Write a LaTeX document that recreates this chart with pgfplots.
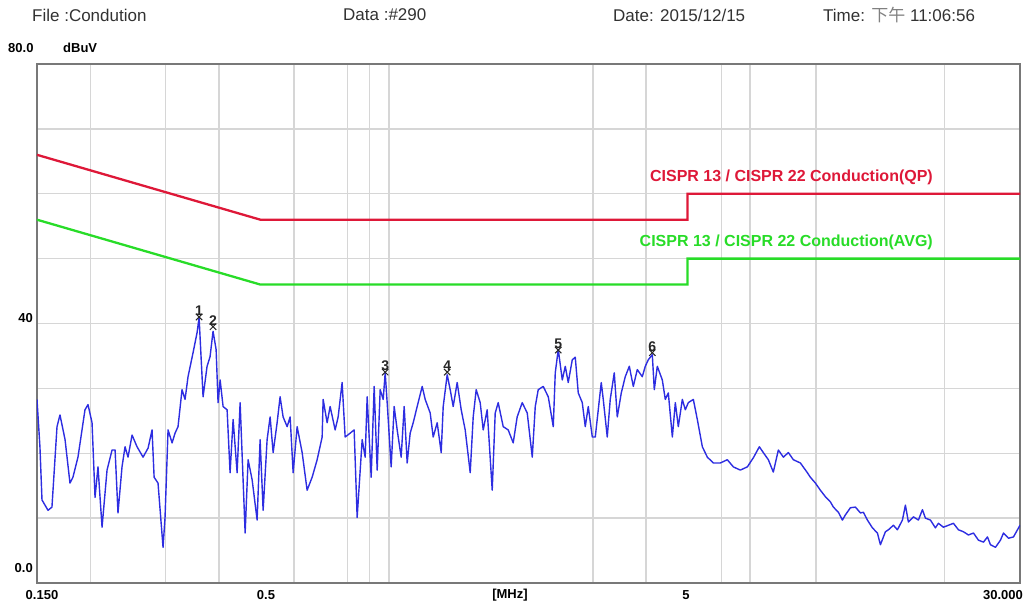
\documentclass[border=0pt]{standalone}
\usepackage{fontspec}
\setmainfont{Liberation Sans}
\newfontfamily\cjk{Noto Sans CJK SC}
\usepackage{pgfplots}
\pgfplotsset{compat=1.18}

\definecolor{qpred}{RGB}{222,24,56}
\definecolor{avggreen}{RGB}{40,220,40}
\definecolor{trace}{RGB}{45,45,225}
\definecolor{gridgray}{RGB}{214,214,214}
\definecolor{framegray}{RGB}{120,120,120}
\definecolor{hdrgray}{RGB}{50,50,50}

\begin{document}
\begin{tikzpicture}[x=1pt,y=1pt]
\useasboundingbox (0,0) rectangle (1029,607);
\begin{axis}[
    at={(37pt,24pt)}, anchor=south west,
    scale only axis, width=983pt, height=519pt,
    xmode=log, xmin=0.15, xmax=30,
    ymin=0, ymax=80,
    xtick={0.2,0.3,0.4,0.6,0.8,0.9,1,3,4,6,7,10,20},
    minor xtick={},
    ytick={10,20,30,40,50,60,70},
    xticklabels={}, yticklabels={},
    major tick length=0pt,
    grid=major,
    grid style={draw=gridgray, line width=1.4pt},
    axis line style={draw=framegray, line width=2pt},
]
% measured trace (MHz, dBuV)
\addplot[trace, line width=1.4pt, line join=round] coordinates {
(0.1500,28.3) (0.1524,21.0) (0.1541,12.8) (0.1592,11.2) (0.1626,11.7)
(0.1671,24.1) (0.1698,25.9) (0.1745,22.1) (0.1792,15.4) (0.1821,16.3)
(0.1871,19.4) (0.1943,26.7) (0.1975,27.5) (0.2018,24.7) (0.2051,13.2)
(0.2084,17.9) (0.2130,8.6) (0.2188,17.4) (0.2248,20.5) (0.2285,20.5)
(0.2321,10.8) (0.2372,17.9) (0.2411,21.0) (0.2450,19.4) (0.2504,22.8)
(0.2572,21.0) (0.2657,19.4) (0.2730,20.8) (0.2789,23.6) (0.2820,16.3)
(0.2880,15.4) (0.2959,5.5) (0.2991,10.1) (0.3040,23.6) (0.3107,21.6)
(0.3157,23.1) (0.3208,24.1) (0.3278,29.8) (0.3332,28.3) (0.3386,31.8)
(0.3479,35.5) (0.3555,38.6) (0.3594,40.9) (0.3672,28.7) (0.3752,33.4)
(0.3813,34.9) (0.3875,38.8) (0.3939,36.0) (0.3981,27.8) (0.4025,31.3)
(0.4090,27.2) (0.4179,26.7) (0.4247,17.0) (0.4317,25.2) (0.4411,17.0)
(0.4483,27.8) (0.4606,7.7) (0.4680,19.0) (0.4783,15.9) (0.4913,9.7)
(0.4993,22.1) (0.5075,11.2) (0.5185,22.1) (0.5270,25.6) (0.5356,20.1)
(0.5472,24.7) (0.5561,28.7) (0.5652,25.6) (0.5776,24.1) (0.5870,25.6)
(0.5966,17.0) (0.6096,24.1) (0.6263,20.1) (0.6433,14.3) (0.6609,16.3)
(0.6790,19.0) (0.6976,22.5) (0.7013,28.3) (0.7166,24.7) (0.7283,27.2)
(0.7482,23.6) (0.7604,25.6) (0.7770,30.9) (0.7897,22.5) (0.8112,23.1)
(0.8289,23.6) (0.8424,10.1) (0.8655,22.1) (0.8796,19.4) (0.8891,28.7)
(0.9085,16.3) (0.9233,30.3) (0.9384,17.4) (0.9537,29.8) (0.9693,28.3)
(0.9798,32.4) (0.9903,27.8) (1.0119,17.9) (1.0284,27.2) (1.0452,23.6)
(1.0680,19.4) (1.0854,27.2) (1.1031,18.5) (1.1211,23.1) (1.1394,24.7)
(1.1642,27.2) (1.1961,30.3) (1.2155,28.3) (1.2488,26.2) (1.2692,22.5)
(1.2968,24.7) (1.3251,20.1) (1.3395,27.2) (1.3687,32.1) (1.3910,29.8)
(1.4137,27.2) (1.4445,30.9) (1.4760,26.7) (1.5081,23.6) (1.5494,17.0)
(1.5746,25.6) (1.6003,29.8) (1.6352,27.8) (1.6619,23.6) (1.6980,26.7)
(1.7445,14.3) (1.7729,26.2) (1.8017,27.8) (1.8510,24.1) (1.9017,23.6)
(1.9537,21.6) (1.9960,25.6) (2.0507,27.8) (2.1070,26.2) (2.1647,19.4)
(2.2000,27.2) (2.2356,29.8) (2.2968,30.3) (2.3597,28.7) (2.4242,24.1)
(2.4505,32.4) (2.4904,36.0) (2.5449,31.3) (2.5863,33.4) (2.6281,30.9)
(2.6856,34.4) (2.7293,34.8) (2.7739,29.3) (2.8346,27.8) (2.8807,24.1)
(2.9277,27.2) (2.9918,22.5) (3.0404,22.5) (3.0896,26.7) (3.1400,30.9)
(3.1741,28.3) (3.2430,22.5) (3.2959,28.3) (3.3679,32.4) (3.4230,25.6)
(3.4976,29.3) (3.5740,31.8) (3.6524,33.4) (3.7319,30.3) (3.8130,32.9)
(3.9175,31.8) (3.9811,33.4) (4.0457,34.4) (4.1343,35.2) (4.1789,29.8)
(4.2470,33.4) (4.3634,31.3) (4.4343,28.3) (4.5072,29.3) (4.6058,22.5)
(4.6807,27.8) (4.7565,24.1) (4.8606,28.3) (4.9396,26.7) (5.0200,27.8)
(5.1573,28.3) (5.2700,25.2) (5.4144,21.0) (5.5620,19.4) (5.7450,18.5)
(5.9657,18.5) (6.1950,19.0) (6.3988,17.9) (6.6446,17.4) (6.9010,17.9)
(7.1280,19.3) (7.3624,21.0) (7.5226,20.1) (7.7275,19.0) (7.9389,17.1)
(8.1558,20.5) (8.3789,19.4) (8.6082,20.1) (8.8437,19.0) (9.1833,18.5)
(9.5370,17.0) (9.6920,16.3) (9.9580,15.4) (10.229,14.3) (10.509,13.3)
(10.796,12.5) (10.972,11.7) (11.273,10.9) (11.519,9.7) (11.706,10.5)
(12.026,11.6) (12.355,11.7) (12.692,10.8) (12.899,10.9) (13.180,9.7)
(13.541,8.5) (13.911,7.7) (14.138,5.9) (14.524,7.9) (14.760,8.2)
(15.164,8.9) (15.494,8.2) (15.919,9.7) (16.177,12.0) (16.440,9.4)
(16.890,10.2) (17.351,9.7) (17.731,11.3) (18.019,10.0) (18.511,9.7)
(19.017,8.5) (19.327,9.2) (19.855,8.6) (20.398,8.9) (20.955,9.2)
(21.528,8.2) (22.117,7.9) (22.721,7.4) (23.343,7.7) (23.980,6.6)
(24.636,6.3) (25.173,7.1) (25.583,5.9) (26.283,5.5) (27.000,6.6)
(27.441,7.7) (28.191,6.9) (28.963,7.1) (29.593,8.2) (30.000,8.9)
};
% limit lines
\addplot[qpred, line width=2.3pt] coordinates {(0.15,66) (0.5,56) (5,56) (5,60) (30,60)};
\addplot[avggreen, line width=2.3pt] coordinates {(0.15,56) (0.5,46) (5,46) (5,50) (30,50)};
% peak markers
\addplot[only marks, mark=x, mark size=4.5pt, black!85, line width=1pt,
    nodes near coords, point meta=explicit symbolic,
    nodes near coords style={font=\fontsize{14}{14}\selectfont\bfseries, anchor=south, inner sep=1pt, yshift=0pt}]
    table[x=f, y=dB, meta=lab] {
f       dB    lab
0.3594  41.0  1
0.3875  39.5  2
0.9798  32.5  3
1.3687  32.5  4
2.4904  35.9  5
4.1343  35.5  6
};
\end{axis}

% header
\begin{scope}[every node/.style={inner sep=0pt, text=hdrgray, font=\fontsize{17}{20}\selectfont}]
\node[anchor=west] at (32,592) {File :Condution};
\node[anchor=west] at (343,592) {Data :\#290};
\node[anchor=west] at (613,592) {Date: 2015/12/15};
\node[anchor=west] at (823,592) {Time: {\cjk\color{gray}下午} 11:06:56};
\end{scope}

% axis texts
\begin{scope}[every node/.style={inner sep=0pt, font=\fontsize{13}{15}\selectfont\bfseries}]
\node[anchor=west] at (8,559) {80.0};
\node[anchor=west] at (63,559) {dBuV};
\node[anchor=east] at (33,289) {40};
\node[anchor=east] at (33,39) {0.0};
\node at (42,12) {0.150};
\node at (266,12) {0.5};
\node at (510,12) {[MHz]};
\node at (686,12) {5};
\node at (1003,12) {30.000};
\end{scope}

% limit labels
\node[anchor=east, inner sep=0pt, text=qpred, font=\fontsize{16}{18}\selectfont\bfseries] at (933,430) {CISPR 13 / CISPR 22 Conduction(QP)};
\node[anchor=east, inner sep=0pt, text=avggreen, font=\fontsize{16}{18}\selectfont\bfseries] at (933,365) {CISPR 13 / CISPR 22 Conduction(AVG)};
\end{tikzpicture}
\end{document}
